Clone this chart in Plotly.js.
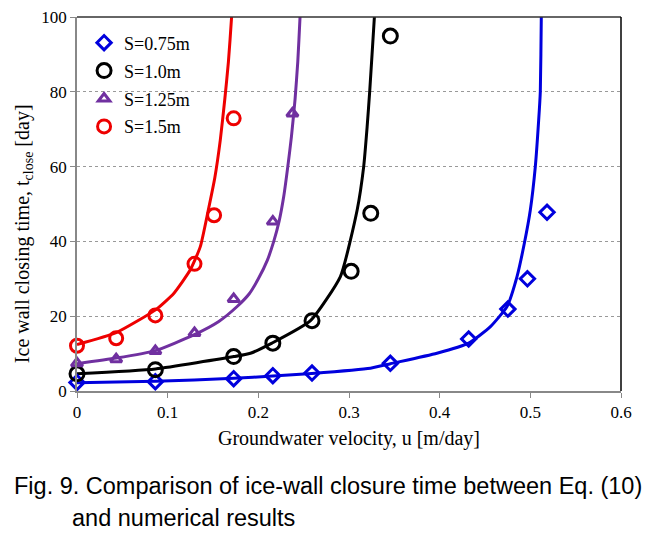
<!DOCTYPE html>
<html>
<head>
<meta charset="utf-8">
<script src="https://cdn.plot.ly/plotly-3.0.1.min.js"></script>
<style>
  body { margin: 0; background: #fff; }
  #chart { width: 654px; height: 536px; }
</style>
</head>
<body>
<div id="chart"></div>
<script>
// numerical results (markers)
const uS075 = [0, 0.0864, 0.1728, 0.216, 0.2592, 0.3456, 0.432, 0.4752, 0.4968, 0.5184];
const tS075 = [2.3, 2.5, 3.3, 4.1, 4.8, 7.4, 13.9, 21.9, 30.0, 47.8];

const uS100 = [0, 0.0864, 0.1728, 0.216, 0.2592, 0.3024, 0.324, 0.3456];
const tS100 = [4.6, 5.7, 9.2, 12.8, 18.8, 32.0, 47.5, 94.9];

const uS125 = [0, 0.0432, 0.0864, 0.1296, 0.1728, 0.216, 0.2376];
const tS125 = [7.4, 8.5, 10.7, 15.5, 24.6, 45.3, 74.2];

const uS150 = [0, 0.0432, 0.0864, 0.1296, 0.1512, 0.1728];
const tS150 = [12.1, 14.1, 20.2, 34.0, 47.0, 72.9];

// Eq. (10) curves
const curveU075 = [0, 0.0866, 0.173, 0.216, 0.259, 0.3236, 0.3457, 0.397, 0.432, 0.456, 0.4743, 0.4853, 0.4934, 0.5, 0.5055, 0.5092, 0.511, 0.5121, 0.5124];
const curveT075 = [2.2, 2.6, 3.4, 4.0, 4.7, 6.1, 7.3, 10.1, 12.8, 17.2, 22.6, 30.6, 39.5, 48.4, 60, 72.4, 80, 100, 106];

const curveU100 = [0, 0.0866, 0.173, 0.1913, 0.215, 0.2575, 0.2905, 0.309, 0.3162, 0.32, 0.3228, 0.328, 0.3292];
const curveT100 = [4.6, 5.9, 9.2, 10.1, 12.8, 18.8, 30.6, 48.4, 60, 70.6, 80, 100, 105];

const curveU125 = [0, 0.0432, 0.0866, 0.1288, 0.1564, 0.1766, 0.19, 0.2, 0.21, 0.217, 0.223, 0.228, 0.2325, 0.2365, 0.2405, 0.2435, 0.246, 0.2468];
const curveT125 = [7.3, 8.8, 10.8, 15.0, 18.6, 22.6, 26.0, 30.0, 35.0, 40.0, 45.5, 52, 60, 68, 78, 88, 100, 105];

const curveU150 = [0, 0.0432, 0.0866, 0.1067, 0.125, 0.136, 0.1445, 0.152, 0.158, 0.163, 0.167, 0.1705, 0.1712];
const curveT150 = [12.4, 15.6, 21.7, 26.1, 32.4, 38.6, 48, 57, 67, 78, 88, 100, 105];

const names = ['S=0.75m', 'S=1.0m', 'S=1.25m', 'S=1.5m'];
const colors = ['#0000dd', '#000000', '#7030a0', '#ee0000'];
const symbols = ['diamond-open', 'circle-open', 'triangle-up-open', 'circle-open'];
const sizes = [11, 14, 10, 13];

const markU = [uS075, uS100, uS125, uS150];
const markT = [tS075, tS100, tS125, tS150];
const lineU = [curveU075, curveU100, curveU125, curveU150];
const lineT = [curveT075, curveT100, curveT125, curveT150];

const traces = [];
for (let i = 0; i < 4; i++) {
  traces.push({
    x: lineU[i], y: lineT[i], type: 'scatter', mode: 'lines',
    line: { color: colors[i], width: 3, shape: 'spline', smoothing: 0.5 },
    showlegend: false, hoverinfo: 'skip'
  });
}
for (let i = 0; i < 4; i++) {
  traces.push({
    x: markU[i], y: markT[i], type: 'scatter', mode: 'markers', name: names[i],
    legendgroup: 'g' + i,
    marker: { symbol: symbols[i], size: sizes[i], color: colors[i], line: { width: 3, color: colors[i] } },
    cliponaxis: false
  });
}

const serif = 'Liberation Serif, Times New Roman, serif';
const sans = 'Liberation Sans, Arial, sans-serif';

const layout = {
  width: 654, height: 536,
  margin: { l: 77, r: 33, t: 17, b: 145 },
  paper_bgcolor: '#fff', plot_bgcolor: '#fff',
  showlegend: true,
  legend: {
    x: 0.013, y: 0.98, xanchor: 'left', yanchor: 'top',
    font: { family: serif, size: 18, color: '#000' },
    bgcolor: 'rgba(0,0,0,0)', tracegroupgap: 1.5, itemwidth: 30
  },
  xaxis: {
    range: [0, 0.6], tickvals: [0, 0.1, 0.2, 0.3, 0.4, 0.5, 0.6],
    ticktext: ['0', '0.1', '0.2', '0.3', '0.4', '0.5', '0.6'],
    showgrid: false, zeroline: false,
    showline: true, linecolor: '#888', linewidth: 1.5,
    ticks: 'outside', ticklen: 5, tickcolor: '#888',
    tickfont: { family: serif, size: 17, color: '#000' },
    title: { text: 'Groundwater velocity, u [m/day]', font: { family: serif, size: 20, color: '#000' }, standoff: 10 }
  },
  yaxis: {
    range: [0, 100], tickvals: [0, 20, 40, 60, 80, 100],
    showgrid: true, gridcolor: '#999', griddash: 'dot', gridwidth: 1,
    zeroline: false,
    showline: true, linecolor: '#888', linewidth: 1.5,
    ticks: 'outside', ticklen: 5, tickcolor: '#888',
    tickfont: { family: serif, size: 17, color: '#000' }
  },
  shapes: [
    { type: 'line', xref: 'paper', yref: 'paper', x0: 0, x1: 1, y0: 1, y1: 1, line: { color: '#333', width: 1.5 } },
    { type: 'line', xref: 'paper', yref: 'paper', x0: 1, x1: 1, y0: 0, y1: 1, line: { color: '#000', width: 1.5 } }
  ],
  annotations: [
    { xref: 'paper', yref: 'paper', x: -0.097, y: 0.42, xanchor: 'center', yanchor: 'middle', showarrow: false,
      textangle: -90, text: 'Ice wall closing time, t<sub>close</sub> [day]',
      font: { family: serif, size: 20, color: '#000' } },
    { xref: 'paper', yref: 'paper', x: -0.12, y: -0.255, xanchor: 'left', yanchor: 'middle', showarrow: false,
      text: 'Fig. 9. Comparison of ice-wall closure time between Eq. (10)',
      font: { family: sans, size: 23.5, color: '#000' } },
    { xref: 'paper', yref: 'paper', x: -0.013, y: -0.34, xanchor: 'left', yanchor: 'middle', showarrow: false,
      text: 'and numerical results',
      font: { family: sans, size: 23.5, color: '#000' } }
  ]
};

Plotly.newPlot('chart', traces, layout, { displayModeBar: false, responsive: false });
</script>
</body>
</html>
